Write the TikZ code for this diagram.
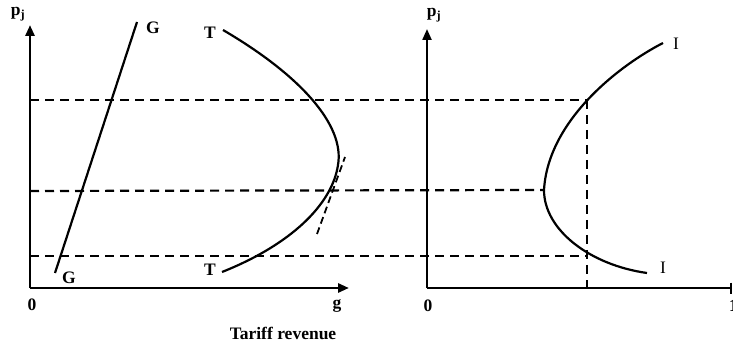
\documentclass[tikz,border=0pt]{standalone}
\usepackage{fontspec}
\setmainfont{Liberation Serif}
\usetikzlibrary{arrows.meta}

\begin{document}
\begin{tikzpicture}[x=1pt, y=-1pt,
        axis/.style={line width=2.8pt, -{Triangle[length=11pt, width=9pt]}},
        axisr/.style={line width=2.2pt, -{Triangle[length=11pt, width=9pt]}},
        curve/.style={line width=2.2pt},
        guide/.style={line width=2.2pt, dash pattern=on 9pt off 6pt},
        lbl/.style={font=\fontsize{17.5}{20}\selectfont\bfseries, inner sep=0pt}
      ]
      \useasboundingbox (0,0) rectangle (733,347);

      % left panel
      \coordinate (O1) at (30,288);
      \coordinate (Y1) at (30,25);
      \coordinate (X1) at (349,288);
      \draw[axis] (O1) -- (Y1);
      \draw[axis] (O1) -- (X1);
      \node[lbl] (p1) at (18,14) {p\textsubscript{j}};
      \node[lbl] (z1) at (32,305) {0};
      \node[lbl] (g) at (337,306) {g};
      \node[lbl] (rev) at (283,333) {Tariff revenue};

      % right panel
      \coordinate (O2) at (427,288);
      \coordinate (Y2) at (427,29);
      \coordinate (X2) at (732,288);
      \draw[axisr] (O2) -- (Y2);
      \draw[line width=2.2pt, -{Bar[width=11pt, line width=2.2pt]}] (O2) -- (X2);
      \node[lbl] (p2) at (434,15) {p\textsubscript{j}};
      \node[lbl] (z2) at (428,306) {0};
      \node[lbl, anchor=west] (one) at (729,306) {1};

      % G line
      \coordinate (G0) at (55,273);
      \coordinate (G1) at (137,22);
      \draw[curve] (G0) -- (G1);
      \node[lbl] (gt) at (153,28) {G};
      \node[lbl] (gb) at (69,278) {G};

      % T curve
      \coordinate (T0) at (223,30);
      \coordinate (T1) at (338,165);
      \coordinate (T2) at (222,272);
      \draw[curve] (T0) .. controls (300,75) and (345,125) .. (T1)
        .. controls (332,205) and (290,245) .. (T2);
      \node[lbl] (tt) at (210,33) {T};
      \node[lbl] (tb) at (210,270) {T};

      % tangent
      \coordinate (t0) at (317,234);
      \coordinate (t1) at (345,157);
      \draw[guide, line width=1.8pt, dash pattern=on 7pt off 4pt] (t0) -- (t1);

      % I curve
      \coordinate (I0) at (663,43);
      \coordinate (I1) at (544,190);
      \coordinate (I2) at (647,273);
      \draw[curve] (I0) .. controls (620,65) and (548,120) .. (I1)
        .. controls (544,230) and (590,265) .. (I2);
      \node[lbl, font=\fontsize{17.5}{20}\selectfont] (it) at (676,44) {I};
      \node[lbl, font=\fontsize{17.5}{20}\selectfont] (ib) at (663,268) {I};

      % guides
      \coordinate (h1) at (30,100);
      \coordinate (h2) at (30,191);
      \coordinate (h3) at (30,256);
      \coordinate (c1) at (587,100);
      \coordinate (c3) at (587,256);
      \coordinate (cb) at (587,288);
      \draw[guide] (h1) -- (c1);
      \draw[guide] (h2) -- (I1);
      \draw[guide] (h3) -- (c3);
      \draw[guide] (c1) -- (cb);
    \end{tikzpicture}
\end{document}
